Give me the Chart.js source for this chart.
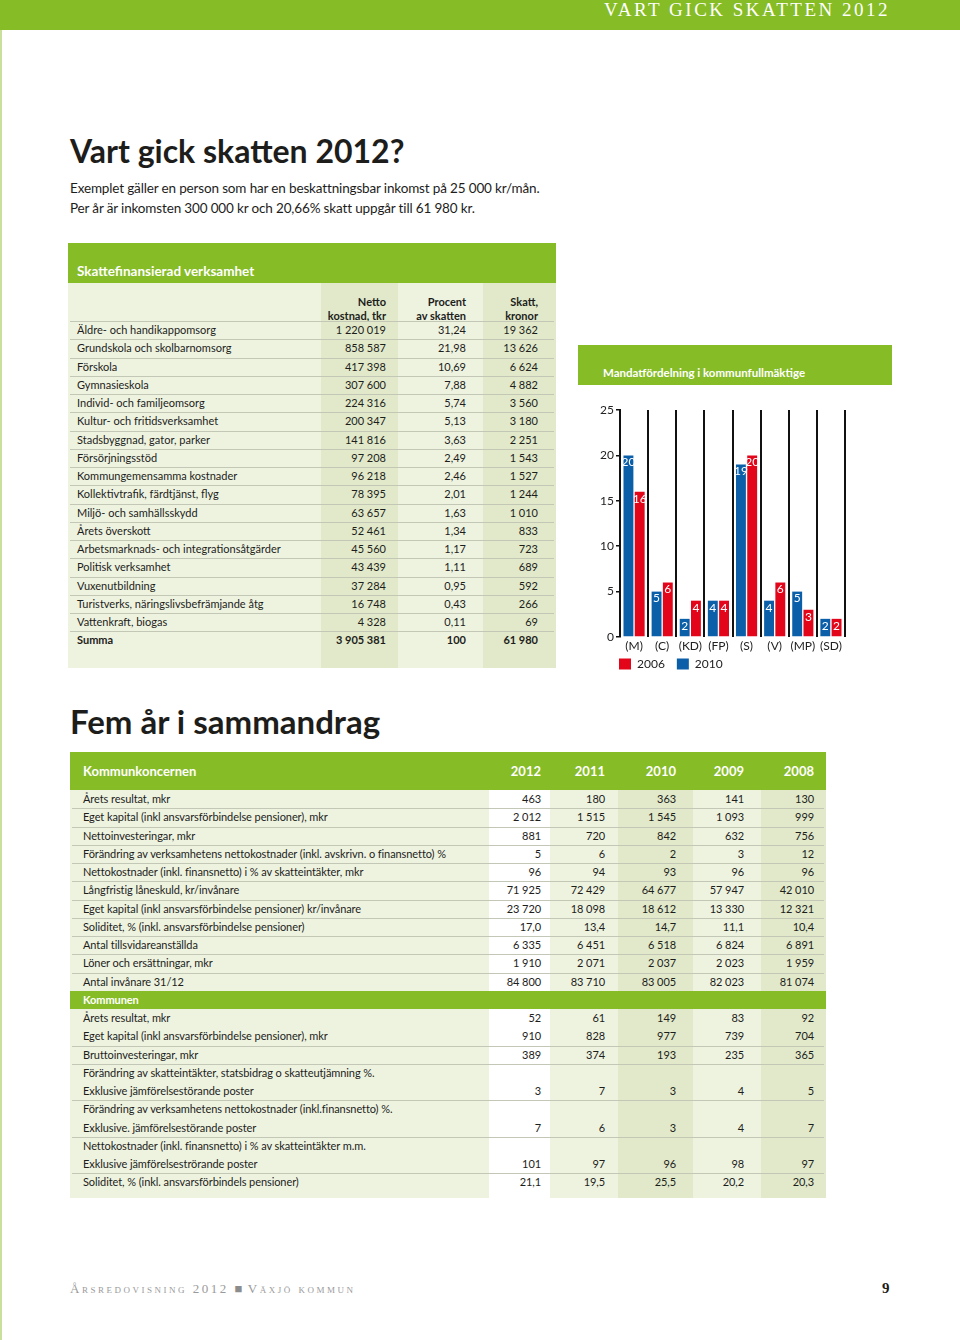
<!DOCTYPE html>
<html lang="sv">
<head>
<meta charset="utf-8">
<title>Vart gick skatten 2012?</title>
<script src="https://cdn.jsdelivr.net/npm/chart.js@4.4.1/dist/chart.umd.min.js"></script>
<style>
  html, body { margin: 0; padding: 0; }
  body {
    width: 960px; height: 1340px; position: relative; overflow: hidden;
    background: #fff; color: #1d1d1b;
    font-family: Lato, "Open Sans", sans-serif;
  }
  .abs { position: absolute; }
  #topbar { left: 0; top: 0; width: 960px; height: 30px; background: #86bc25; }
  #topbar span {
    position: absolute; right: 70px; top: -1px;
    font-family: "Liberation Serif", serif; font-size: 19px; letter-spacing: 2.5px; color: #fff;
  }
  #edge { left: 0; top: 30px; width: 2px; height: 1310px; background: #c8e09c; }
  .title { margin: 0; font-weight: 700; font-size: 32px; white-space: nowrap; }
  .intro { left: 70px; font-size: 13.5px; letter-spacing: -0.15px; white-space: nowrap; }
  .greenhead { background: #86bc25; color: #fff; font-weight: 700; font-size: 11.5px; }
  .cell { position: absolute; height: 18px; line-height: 18px; font-size: 11px; white-space: nowrap; }
  .r { text-align: right; }
  .sep { position: absolute; height: 1px; background: #c2c7b6; }
  #t2 .cell { letter-spacing: -0.08px; }
  #t2 .hd { font-size: 13px; letter-spacing: 0; }
  #footer { left: 70px; top: 1281px; font-family: "Liberation Serif", serif; font-variant: small-caps;
    font-size: 13px; letter-spacing: 2.5px; color: #9a9a9a; white-space: nowrap; }
  #pageno { left: 882px; top: 1280px; font-family: "Liberation Serif", serif; font-weight: 700; font-size: 15px; }
</style>
</head>
<body>
<div id="topbar" class="abs"><span>VART GICK SKATTEN 2012</span></div>
<div id="edge" class="abs"></div>

<h1 class="abs title" style="left:70px; top:131px;">Vart gick skatten 2012?</h1>
<div class="abs intro" style="top:180px;">Exemplet gäller en person som har en beskattningsbar inkomst på 25 000 kr/mån.</div>
<div class="abs intro" style="top:200px;">Per år är inkomsten 300 000 kr och 20,66% skatt uppgår till 61 980 kr.</div>

<div id="t1"></div>

<div class="abs greenhead" style="left:578px; top:345px; width:314px; height:40px;">
  <span class="abs" style="left:25px; top:21px;">Mandatfördelning i kommunfullmäktige</span>
</div>
<canvas id="seats" class="abs" width="314" height="293" style="left:578px; top:395px;"></canvas>

<h1 class="abs title" style="left:70px; top:701px; font-size:33px;">Fem år i sammandrag</h1>
<div id="t2"></div>

<div id="footer" class="abs">Årsredovisning 2012 <span style="color:#8c8c8c; letter-spacing:0">&#9632;</span> Växjö kommun</div>
<div id="pageno" class="abs">9</div>

<script>
// Mandatfördelning i kommunfullmäktige
const parties = ["(M)", "(C)", "(KD)", "(FP)", "(S)", "(V)", "(MP)", "(SD)"];
const seats2010 = [20, 5, 2, 4, 19, 4, 5, 2];
const seats2006 = [16, 6, 4, 4, 20, 6, 3, 2];
const seatMax = 25;
const seatStep = 5;

// Skattefinansierad verksamhet
const taxLabels = [
    "Äldre- och handikappomsorg", "Grundskola och skolbarnomsorg", "Förskola",
    "Gymnasieskola", "Individ- och familjeomsorg", "Kultur- och fritidsverksamhet",
    "Stadsbyggnad, gator, parker", "Försörjningsstöd", "Kommungemensamma kostnader",
    "Kollektivtrafik, färdtjänst, flyg", "Miljö- och samhällsskydd", "Årets överskott",
    "Arbetsmarknads- och integrationsåtgärder", "Politisk verksamhet", "Vuxenutbildning",
    "Turistverks, näringslivsbefrämjande åtg", "Vattenkraft, biogas",
];
const taxNetto = ["1 220 019", "858 587", "417 398", "307 600", "224 316", "200 347", "141 816",
    "97 208", "96 218", "78 395", "63 657", "52 461", "45 560", "43 439", "37 284", "16 748", "4 328"];
const taxProcent = ["31,24", "21,98", "10,69", "7,88", "5,74", "5,13", "3,63", "2,49", "2,46",
    "2,01", "1,63", "1,34", "1,17", "1,11", "0,95", "0,43", "0,11"];
const taxSkatt = ["19 362", "13 626", "6 624", "4 882", "3 560", "3 180", "2 251", "1 543", "1 527",
    "1 244", "1 010", "833", "723", "689", "592", "266", "69"];
const taxSum = ["3 905 381", "100", "61 980"];

// Fem år i sammandrag
const years = ["2012", "2011", "2010", "2009", "2008"];
const koncernLabels = [
    "Årets resultat, mkr",
    "Eget kapital (inkl ansvarsförbindelse pensioner), mkr",
    "Nettoinvesteringar, mkr",
    "Förändring av verksamhetens nettokostnader (inkl. avskrivn. o finansnetto) %",
    "Nettokostnader (inkl. finansnetto) i % av skatteintäkter, mkr",
    "Långfristig låneskuld, kr/invånare",
    "Eget kapital (inkl ansvarsförbindelse pensioner) kr/invånare",
    "Soliditet, % (inkl. ansvarsförbindelse pensioner)",
    "Antal tillsvidareanställda",
    "Löner och ersättningar, mkr",
    "Antal invånare 31/12",
];
const koncernValues = [
    ["463", "180", "363", "141", "130"],
    ["2 012", "1 515", "1 545", "1 093", "999"],
    ["881", "720", "842", "632", "756"],
    ["5", "6", "2", "3", "12"],
    ["96", "94", "93", "96", "96"],
    ["71 925", "72 429", "64 677", "57 947", "42 010"],
    ["23 720", "18 098", "18 612", "13 330", "12 321"],
    ["17,0", "13,4", "14,7", "11,1", "10,4"],
    ["6 335", "6 451", "6 518", "6 824", "6 891"],
    ["1 910", "2 071", "2 037", "2 023", "1 959"],
    ["84 800", "83 710", "83 005", "82 023", "81 074"],
];
const kommunLabels = [
    "Årets resultat, mkr",
    "Eget kapital (inkl ansvarsförbindelse pensioner), mkr",
    "Bruttoinvesteringar, mkr",
    "Förändring av skatteintäkter, statsbidrag o skatteutjämning %.",
    "Exklusive jämförelsestörande poster",
    "Förändring av verksamhetens nettokostnader (inkl.finansnetto) %.",
    "Exklusive. jämförelsestörande poster",
    "Nettokostnader (inkl. finansnetto) i % av skatteintäkter m.m.",
    "Exklusive jämförelseströrande poster",
    "Soliditet, % (inkl. ansvarsförbindels pensioner)",
];
const kommunValues = [
    ["52", "61", "149", "83", "92"],
    ["910", "828", "977", "739", "704"],
    ["389", "374", "193", "235", "365"],
    null,
    ["3", "7", "3", "4", "5"],
    null,
    ["7", "6", "3", "4", "7"],
    null,
    ["101", "97", "96", "98", "97"],
    ["21,1", "19,5", "25,5", "20,2", "20,3"],
];

const ROW = 18.25;
const LIGHT = "#eef3e0";
const SHADE = "#e1e9ca";

function box(left, top, width, height, bg) {
    return `<div class="abs" style="left:${left}px;top:${top}px;width:${width}px;height:${height}px;background:${bg}"></div>`;
}
function cell(text, left, top, opts = {}) {
    const w = opts.width ? `width:${opts.width}px;` : "";
    const b = opts.bold ? "font-weight:700;" : "";
    const c = opts.color ? `color:${opts.color};` : "";
    const cls = "cell" + (opts.right ? " r" : "") + (opts.cls ? " " + opts.cls : "");
    return `<div class="${cls}" style="left:${left}px;top:${top}px;${w}${b}${c}">${text}</div>`;
}

// table 1
(function () {
    let h = "";
    h += `<div class="abs greenhead" style="left:68px;top:243px;width:488px;height:40px;">
            <span class="abs" style="left:9px;top:20px;font-size:13.5px;">Skattefinansierad verksamhet</span></div>`;
    h += box(68, 283, 488, 385, LIGHT);
    h += box(321, 283, 77, 385, SHADE);
    h += box(483, 283, 73, 385, SHADE);
    const rights = [386, 466, 538];
    const heads = [["Netto", "kostnad, tkr"], ["Procent", "av skatten"], ["Skatt,", "kronor"]];
    heads.forEach((hd, k) => {
        h += cell(hd[0], rights[k] - 90, 293, { width: 90, right: true, bold: true });
        h += cell(hd[1], rights[k] - 90, 307, { width: 90, right: true, bold: true });
    });
    h += `<div class="sep" style="left:70px;top:321px;width:484px"></div>`;
    taxLabels.forEach((label, i) => {
        const top = 321 + ROW * i;
        h += cell(label, 77, top);
        [taxNetto[i], taxProcent[i], taxSkatt[i]].forEach((v, k) => {
            h += cell(v, rights[k] - 90, top, { width: 90, right: true });
        });
        h += `<div class="sep" style="left:70px;top:${(top + ROW).toFixed(1)}px;width:484px"></div>`;
    });
    const sumTop = 321 + ROW * taxLabels.length;
    h += cell("Summa", 77, sumTop, { bold: true });
    taxSum.forEach((v, k) => {
        h += cell(v, rights[k] - 90, sumTop, { width: 90, right: true, bold: true });
    });
    document.getElementById("t1").innerHTML = h;
})();

// table 2
(function () {
    let h = "";
    const colEdges = [70, 489, 550, 618, 693, 761, 826];
    const colBg = [LIGHT, "#ffffff", LIGHT, SHADE, LIGHT, SHADE];
    const rights = [541, 605, 676, 744, 814];
    colBg.forEach((bg, k) => {
        h += box(colEdges[k], 790, colEdges[k + 1] - colEdges[k], 408, bg);
    });
    h += `<div class="abs greenhead" style="left:70px;top:752px;width:756px;height:38px;"></div>`;
    h += cell("Kommunkoncernen", 83, 762, { bold: true, color: "#fff", cls: "hd" });
    years.forEach((y, k) => {
        h += cell(y, rights[k] - 60, 762, { width: 60, right: true, bold: true, color: "#fff", cls: "hd" });
    });
    koncernLabels.forEach((label, i) => {
        const top = 790 + ROW * i;
        h += cell(label, 83, top);
        koncernValues[i].forEach((v, k) => {
            h += cell(v, rights[k] - 60, top, { width: 60, right: true });
        });
        if (i < koncernLabels.length - 1) {
            h += `<div class="sep" style="left:72px;top:${(top + ROW).toFixed(1)}px;width:752px"></div>`;
        }
    });
    const barTop = 790 + ROW * koncernLabels.length;
    h += `<div class="abs greenhead" style="left:70px;top:${barTop}px;width:756px;height:${ROW}px;"></div>`;
    h += cell("Kommunen", 83, barTop, { bold: true, color: "#fff" });
    const lineAfter = [1, 2, 4, 6, 8];
    kommunLabels.forEach((label, i) => {
        const top = barTop + ROW * (i + 1);
        h += cell(label, 83, top);
        if (kommunValues[i]) {
            kommunValues[i].forEach((v, k) => {
                h += cell(v, rights[k] - 60, top, { width: 60, right: true });
            });
        }
        if (lineAfter.includes(i)) {
            h += `<div class="sep" style="left:72px;top:${(top + ROW).toFixed(1)}px;width:752px"></div>`;
        }
    });
    document.getElementById("t2").innerHTML = h;
})();

// white seat numbers at the top of each bar
const valueLabels = {
    id: "valueLabels",
    afterDatasetsDraw(chart) {
        const ctx = chart.ctx;
        ctx.save();
        ctx.fillStyle = "#ffffff";
        ctx.font = "12px Lato";
        ctx.textAlign = "center";
        ctx.textBaseline = "middle";
        chart.data.datasets.forEach((ds, di) => {
            chart.getDatasetMeta(di).data.forEach((bar, i) => {
                ctx.fillText(String(ds.data[i]), bar.x, bar.y + 7);
            });
        });
        ctx.restore();
    },
};

// the legend sits tight under the party labels, flush with the y axis
const legendNudge = {
    id: "legendNudge",
    afterLayout(chart) {
        const lg = chart.legend;
        lg.left += 17;
        lg.right += 17;
        lg.top -= 8;
        lg.bottom -= 8;
    },
};

const tickFont = { family: "Lato", size: 12 };

new Chart(document.getElementById("seats"), {
    type: "bar",
    data: {
        labels: parties,
        datasets: [
            { label: "2010", data: seats2010, backgroundColor: "#0b5fa9" },
            { label: "2006", data: seats2006, backgroundColor: "#e3061b" },
        ],
    },
    options: {
        responsive: false,
        animation: false,
        layout: { padding: { left: 12, right: 47, top: 15, bottom: 0 } },
        datasets: { bar: { categoryPercentage: 0.8, barPercentage: 0.88 } },
        plugins: {
            tooltip: { enabled: false },
            legend: {
                position: "bottom",
                align: "start",
                reverse: true,
                labels: { boxWidth: 12, boxHeight: 11, padding: 12, color: "#222", font: tickFont },
            },
        },
        scales: {
            x: {
                grid: { color: "#111", lineWidth: 2, drawTicks: false, offset: true },
                border: { display: false },
                ticks: {
                    color: "#222", padding: 2, font: tickFont,
                    autoSkip: false, maxRotation: 0, minRotation: 0,
                },
                afterFit: (scale) => { scale.height = 17; },
            },
            y: {
                min: 0,
                max: seatMax,
                ticks: { stepSize: seatStep, color: "#222", padding: 2, font: tickFont },
                grid: { drawOnChartArea: false, color: "#111", tickLength: 4, lineWidth: 1.5 },
                border: { color: "#111", width: 2 },
                afterFit: (scale) => { scale.width = 30; },
            },
        },
    },
    plugins: [valueLabels, legendNudge],
});
</script>
</body>
</html>
